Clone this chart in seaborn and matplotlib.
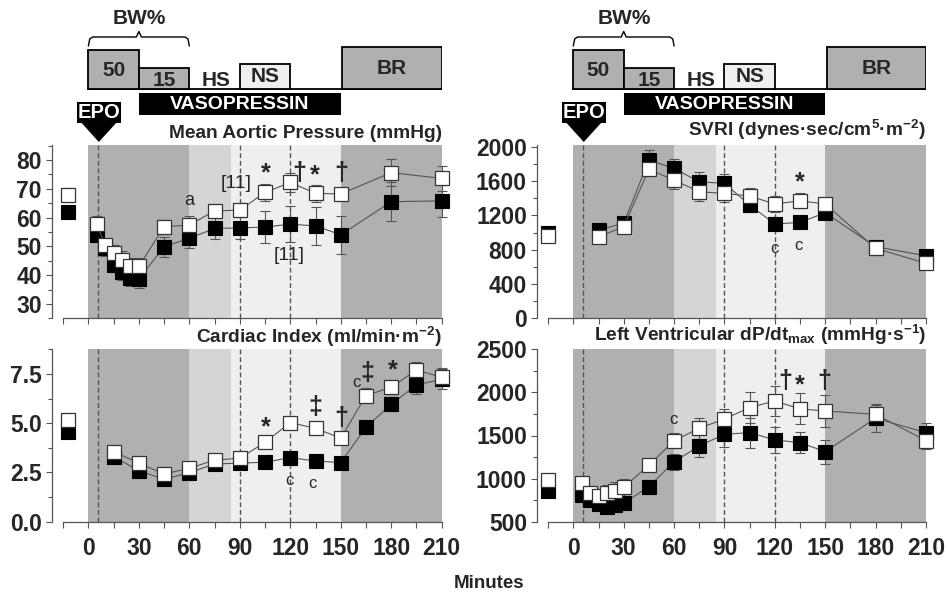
import numpy as np
import pandas as pd
import matplotlib
matplotlib.use("Agg")
import matplotlib.pyplot as plt
import seaborn as sns
from matplotlib.patches import Rectangle, Polygon

sns.set_theme(style="ticks")
plt.rcParams["font.family"] = ["Liberation Sans", "DejaVu Sans"]
plt.rcParams["mathtext.fontset"] = "custom"
plt.rcParams["mathtext.rm"] = "Liberation Sans"
plt.rcParams["mathtext.it"] = "Liberation Sans:italic"
plt.rcParams["mathtext.bf"] = "Liberation Sans:bold"
plt.rcParams["mathtext.default"] = "bf"

# ---------------- data ----------------
T_MAP = [5, 10, 15, 20, 25, 30, 45, 60, 75, 90, 105, 120, 135, 150, 180, 210]
MAP_OPEN = [57.7, 50.5, 47.8, 45.3, 43.0, 43.0, 56.8, 57.4, 62.3, 62.6, 68.7, 72.2, 68.4, 68.2, 75.6, 73.6]
MAP_OPEN_SE = [3, 2.5, 2.5, 3, 3, 3, 2.5, 3, 2, 2.5, 3, 3.2, 3, 2, 4.6, 4.3]
MAP_FILL = [54.0, 49.3, 43.5, 41.2, 39.1, 38.6, 49.9, 52.8, 56.2, 56.4, 56.7, 57.7, 57.1, 54.0, 65.5, 65.8]
MAP_FILL_SE = [2.5, 2.5, 2.5, 3, 3, 3, 3.5, 3.5, 3.5, 4, 5.7, 6.2, 6.5, 6.6, 6.7, 5.6]
MAP_BASE = [67.8, 61.8]
MAP_BASE_SE = [2.5, 2.0]

T_CI = [15, 30, 45, 60, 75, 90, 105, 120, 135, 150, 165, 180, 195, 210]
CI_OPEN = [3.56, 2.97, 2.42, 2.71, 3.13, 3.22, 4.03, 5.03, 4.74, 4.24, 6.40, 6.82, 7.70, 7.33]
CI_OPEN_SE = [0.12, 0.12, 0.1, 0.1, 0.1, 0.1, 0.12, 0.12, 0.15, 0.15, 0.4, 0.35, 0.4, 0.45]
CI_FILL = [3.30, 2.59, 2.15, 2.49, 2.93, 2.97, 3.02, 3.25, 3.08, 3.00, 4.79, 5.96, 6.94, 7.23]
CI_FILL_SE = [0.1, 0.1, 0.1, 0.1, 0.1, 0.1, 0.1, 0.1, 0.1, 0.1, 0.15, 0.35, 0.45, 0.5]
CI_BASE = [5.15, 4.57]
CI_BASE_SE = [0.15, 0.15]

T_SVRI = [15, 30, 45, 60, 75, 90, 105, 120, 135, 150, 180, 210]
SVRI_OPEN = [951, 1067, 1736, 1611, 1475, 1456, 1425, 1332, 1370, 1332, 815, 641]
SVRI_OPEN_SE = [50, 50, 75, 105, 105, 100, 90, 90, 90, 70, 80, 60]
SVRI_FILL = [1029, 1107, 1844, 1747, 1591, 1573, 1320, 1099, 1118, 1230, 834, 729]
SVRI_FILL_SE = [50, 50, 115, 115, 115, 105, 80, 70, 70, 50, 80, 60]
SVRI_BASE = [965, 1000]
SVRI_BASE_SE = [50, 50]

T_DP = [5, 10, 15, 20, 25, 30, 45, 60, 75, 90, 105, 120, 135, 150, 180, 210]
DP_OPEN = [946, 837, 802, 830, 860, 899, 1155, 1440, 1584, 1692, 1824, 1901, 1808, 1785, 1745, 1440]
DP_OPEN_SE = [58, 50, 60, 90, 100, 100, 70, 85, 120, 110, 175, 175, 180, 185, 120, 100]
DP_FILL = [810, 752, 702, 667, 694, 714, 906, 1195, 1379, 1514, 1533, 1449, 1417, 1313, 1700, 1533]
DP_FILL_SE = [50, 50, 50, 60, 60, 60, 80, 95, 125, 150, 175, 155, 125, 140, 155, 115]
DP_BASE = [984, 860]
DP_BASE_SE = [70, 50]

BASE_T_LEFT = -12
BASE_T_RIGHT = -15

TITLES = ["Mean Aortic Pressure (mmHg)",
          r"SVRI (dynes·sec/cm$^{5}$·m$^{-2}$)",
          r"Cardiac Index (ml/min·m$^{-2}$)",
          r"Left Ventricular dP/dt$_{max}$ (mmHg·s$^{-1}$)"]

ANN_MAP = [("a", 60, 65.8, "n"), ("[11]", 88, 71.9, "b"), ("*", 105.4, 75.4, "s"),
           ("†", 125.4, 75.5, "d"), ("*", 134.7, 74.8, "s"), ("†", 150.5, 75.5, "d"),
           ("[11]", 119.4, 46.7, "b")]
ANN_CI = [("*", 105.4, 4.79, "s"), ("c", 119.4, 2.08, "c"), ("c", 133, 1.95, "c"),
          ("‡", 134.7, 5.81, "d"), ("†", 150, 5.25, "d"), ("c", 159.5, 7.06, "c"),
          ("‡", 166, 7.57, "d"), ("*", 180.9, 7.7, "s")]
ANN_SVRI = [("*", 134.9, 1580, "s"), ("c", 119.5, 815, "c"), ("c", 133.9, 854, "c")]
ANN_DP = [("c", 59.5, 1681, "c"), ("†", 126, 2137, "d"), ("*", 134.9, 2087, "s"),
          ("†", 149.4, 2137, "d")]

# phases (minutes)
SHADES = [(0, 60, "#b0b0b0"), (60, 85, "#d5d5d5"), (85, 150, "#efefef"), (150, 210, "#b0b0b0")]
DASHES = [6, 90, 120]

# ---------------- layout ----------------
W, H = 948, 594
fig = plt.figure(figsize=(W / 100, H / 100), dpi=100)


def fx(px):
    return px / W


def fy(py):
    return 1 - py / H


COLS = [(51.7, 441.7), (536.7, 926.0)]
ROWS = [(145.0, 318.3), (349.3, 521.7)]
XMIN = -21.8

LINE_C = "#555555"


def make_ax(col, row):
    (l, r), (t, b) = COLS[col], ROWS[row]
    return fig.add_axes([fx(l), fy(b), fx(r) - fx(l), (b - t) / H])


def draw_panel(ax, t, yo, so, yf, sf, bt, base, base_se, ylim, major, minor, fmt, anns, bottom_labels):
    for a, b_, c in SHADES:
        ax.axvspan(a, b_, color=c, lw=0, zorder=0)
    for d in DASHES:
        ax.axvline(d, color="#555555", ls=(0, (3.5, 2)), lw=1.0, zorder=1)
    # error bars
    ax.errorbar(t, yf, yerr=sf, fmt="none", ecolor=LINE_C, elinewidth=0.8,
                capsize=3.5, capthick=0.8, zorder=3, clip_on=False)
    ax.errorbar(t, yo, yerr=so, fmt="none", ecolor=LINE_C, elinewidth=0.8,
                capsize=3.5, capthick=0.8, zorder=3, clip_on=False)
    ax.errorbar([bt, bt], base, yerr=base_se, fmt="none", ecolor=LINE_C, elinewidth=0.8,
                capsize=3.5, capthick=0.8, zorder=3, clip_on=False)
    sns.lineplot(x=t, y=yf, ax=ax, color=LINE_C, lw=0.8, marker="s", markersize=9.5,
                 markerfacecolor="black", markeredgecolor="black", markeredgewidth=0.8,
                 zorder=4, clip_on=False)
    sns.lineplot(x=t, y=yo, ax=ax, color=LINE_C, lw=0.8, marker="s", markersize=9.5,
                 markerfacecolor="white", markeredgecolor="#333333", markeredgewidth=0.9,
                 zorder=5, clip_on=False)
    sns.scatterplot(x=[bt], y=[base[1]], ax=ax, marker="s", s=90, color="black",
                    edgecolor="black", linewidth=0.8, zorder=4, clip_on=False)
    sns.scatterplot(x=[bt], y=[base[0]], ax=ax, marker="s", s=90, color="white",
                    edgecolor="#333333", linewidth=0.9, zorder=5, clip_on=False)
    ax.set_xlim(XMIN, 210)
    ax.set_ylim(*ylim)
    ax.set_xlabel("")
    ax.set_ylabel("")
    xt = list(range(-15, 211, 15))
    ax.set_xticks(xt)
    if bottom_labels:
        ax.set_xticklabels([str(v) if (v >= 0 and v % 30 == 0) else "" for v in xt])
    else:
        ax.set_xticklabels([""] * len(xt))
    ax.set_yticks(major)
    ax.set_yticklabels([fmt.format(v) for v in major])
    ax.set_yticks(minor, minor=True)
    for s in ["top", "right"]:
        ax.spines[s].set_visible(False)
    ax.spines["bottom"].set_bounds(-15, 210)
    for s in ["left", "bottom"]:
        ax.spines[s].set_color("#555555")
        ax.spines[s].set_linewidth(0.9)
    ax.tick_params(axis="both", which="major", direction="out", length=4, width=0.8,
                   color="#555555", labelsize=16.5)
    ax.tick_params(axis="y", which="minor", direction="out", length=3, width=0.8, color="#555555")
    ax.tick_params(axis="x", which="major", pad=7)
    ax.tick_params(axis="y", which="major", pad=3)
    for lab in ax.get_xticklabels() + ax.get_yticklabels():
        lab.set_fontweight("bold")
    ax.set_facecolor("white")
    for txt, x, y, kind in anns:
        if kind == "s":
            ax.text(x, y, txt, ha="center", va="center", fontsize=18, fontweight="bold", zorder=6, clip_on=False)
        elif kind == "d":
            ax.text(x, y, txt, ha="center", va="center", fontsize=18, fontweight="bold", zorder=6, clip_on=False)
        elif kind == "c":
            ax.text(x, y, txt, ha="center", va="center", fontsize=12, zorder=6, clip_on=False)
        elif kind == "b":
            ax.text(x, y, txt, ha="center", va="center", fontsize=14, zorder=6, clip_on=False)
        else:
            ax.text(x, y, txt, ha="center", va="center", fontsize=13, zorder=6, clip_on=False)


ax_tl = make_ax(0, 0)
ax_tr = make_ax(1, 0)
ax_bl = make_ax(0, 1)
ax_br = make_ax(1, 1)

draw_panel(ax_tl, T_MAP, MAP_OPEN, MAP_OPEN_SE, MAP_FILL, MAP_FILL_SE, BASE_T_LEFT,
           MAP_BASE, MAP_BASE_SE, (25, 85.2), [30, 40, 50, 60, 70, 80],
           [25, 35, 45, 55, 65, 75, 85], "{:d}", ANN_MAP, False)
draw_panel(ax_tr, T_SVRI, SVRI_OPEN, SVRI_OPEN_SE, SVRI_FILL, SVRI_FILL_SE, BASE_T_RIGHT,
           SVRI_BASE, SVRI_BASE_SE, (0, 2020), [0, 400, 800, 1200, 1600, 2000],
           [200, 600, 1000, 1400, 1800], "{:d}", ANN_SVRI, False)
draw_panel(ax_bl, T_CI, CI_OPEN, CI_OPEN_SE, CI_FILL, CI_FILL_SE, BASE_T_LEFT,
           CI_BASE, CI_BASE_SE, (0, 8.75), [0.0, 2.5, 5.0, 7.5],
           [1.25, 3.75, 6.25, 8.75], "{:.1f}", ANN_CI, True)
draw_panel(ax_br, T_DP, DP_OPEN, DP_OPEN_SE, DP_FILL, DP_FILL_SE, BASE_T_RIGHT,
           DP_BASE, DP_BASE_SE, (500, 2500), [500, 1000, 1500, 2000, 2500],
           [750, 1250, 1750, 2250], "{:d}", ANN_DP, True)

# panel titles
TITLE_POS = [(441.7, 133), (926.0, 130), (441.7, 337), (926.0, 335)]
for ttl, (px, py) in zip(TITLES, TITLE_POS):
    fig.text(fx(px), fy(py), ttl, ha="right", va="center", fontsize=13.8, fontweight="bold")

fig.text(fx(489), fy(583), "Minutes", ha="center", va="center", fontsize=13.5, fontweight="bold")

# ---------------- protocol schematic ----------------
BOXES = [("50", 0, 30, 50.0, "#b0b0b0", 70), ("15", 30, 60, 68.3, "#b0b0b0", 80),
         ("NS", 90, 120, 64.0, "#efefef", 77), ("BR", 151, 210, 46.7, "#b0b0b0", 69)]
for col in range(2):
    l, r = COLS[col]
    sax = fig.add_axes([fx(l), fy(145), fx(r) - fx(l), 145 / H])
    sax.set_xlim(XMIN, 210)
    sax.set_ylim(145, 0)
    sax.axis("off")
    base_y = 89.3
    sax.plot([0, 210], [base_y, base_y], color="black", lw=1.3, zorder=1)
    for lab, a, b_, top, c, ty in BOXES:
        sax.add_patch(Rectangle((a, top), b_ - a, base_y - top, facecolor=c,
                                edgecolor="black", lw=1.3, zorder=2))
        sax.text((a + b_) / 2, ty, lab, ha="center", va="center", fontsize=15,
                 fontweight="bold", zorder=3)
    sax.text(76, 80, "HS", ha="center", va="center", fontsize=15, fontweight="bold")
    sax.add_patch(Rectangle((30, 92.7), 120, 22.3, facecolor="black", edgecolor="black", lw=0))
    sax.text(90, 104, "VASOPRESSIN", ha="center", va="center", fontsize=14,
             fontweight="bold", color="white")
    # BW% brace
    sax.plot([0, 0.8, 2.5, 28.5, 30, 31.5, 57.5, 59.2, 60],
             [46, 39, 37, 37, 31.5, 37, 37, 39, 46], color="black", lw=1.0)
    sax.text(30.5, 19, "BW%", ha="center", va="center", fontsize=15, fontweight="bold")
    # EPO arrow
    sax.add_patch(Rectangle((-7, 101.7), 26.5, 21.6, facecolor="black", edgecolor="black", lw=0))
    sax.text(6.3, 112.7, "EPO", ha="center", va="center", fontsize=14.5, fontweight="bold",
             color="white")
    sax.add_patch(Polygon([(-4, 123), (16.5, 123), (6.2, 142)], closed=True,
                          facecolor="black", edgecolor="black", lw=0))

fig.savefig("out.png", dpi=100)
